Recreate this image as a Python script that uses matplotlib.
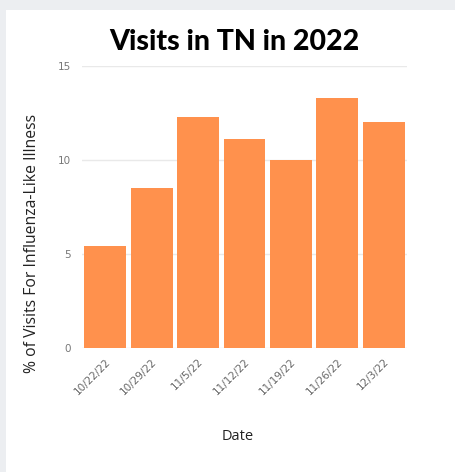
import matplotlib.pyplot as plt
from matplotlib.patches import Rectangle

dates = ["10/22/22", "10/29/22", "11/5/22", "11/12/22", "11/19/22", "11/26/22", "12/3/22"]
ili_pct = [5.4, 8.5, 12.3, 11.1, 10.0, 13.3, 12.0]
y_ticks = [0, 5, 10, 15]

fig = plt.figure(figsize=(4.56, 4.72), dpi=100)
fig.patch.set_facecolor("#eceef1")
# white card over the grey page
fig.patches.append(Rectangle((6 / 456, 0), 1, (472 - 10) / 472, transform=fig.transFigure,
                             facecolor="white", edgecolor="none", zorder=0))

ax = fig.add_axes([82 / 456, 124 / 472, 325 / 456, 282 / 472])
ax.set_zorder(2)
ax.set_facecolor("none")

x = range(len(dates))
ax.bar(x, ili_pct, width=0.9, color="#ff914d", zorder=3)

ax.set_xlim(-0.5, len(dates) - 0.5)
ax.set_ylim(0, 15)
ax.set_yticks(y_ticks)
ax.yaxis.grid(True, color="#e9e9e9", lw=1, zorder=0)
for s in ax.spines.values():
    s.set_visible(False)
ax.tick_params(length=0)
ax.tick_params(axis="y", pad=8, labelsize=7.5, labelcolor="#777777")
ax.set_xticks(list(x))
ax.set_xticklabels(dates, rotation=45, ha="right", rotation_mode="anchor",
                   fontsize=7.5, color="#666666")
ax.tick_params(axis="x", pad=6)

ax.set_ylabel("% of Visits For Influenza-Like Illness", fontsize=11.3, color="#222222",
              family="Open Sans")
ax.yaxis.set_label_coords(-0.13, 0.37)
t1 = fig.text(238 / 456, 1 - 437 / 472, "Date", ha="center", va="center", fontsize=10.5,
              color="#222222", family="Open Sans")
t2 = fig.text(234 / 456, 1 - 42 / 472, "Visits in TN in 2022", ha="center", va="center",
              fontsize=20.5, fontweight="black", family="Lato", color="black")
t1.set_zorder(3)
t2.set_zorder(3)

fig.savefig("out.png", dpi=100, facecolor=fig.get_facecolor())
